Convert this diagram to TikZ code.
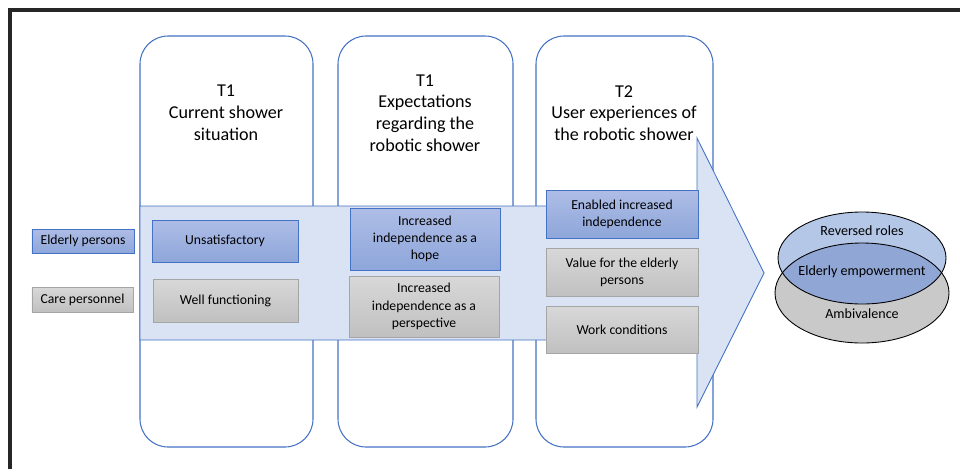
\documentclass[tikz,border=0pt]{standalone}
\usepackage{fontspec}
\setmainfont{Carlito}
\usetikzlibrary{shapes.geometric}

\definecolor{phaseline}{HTML}{4472C4}
\definecolor{arrowfill}{HTML}{DAE3F3}
\definecolor{bluetop}{HTML}{AEBDE6}
\definecolor{bluebot}{HTML}{8EA6DA}
\definecolor{greytop}{HTML}{D8D8D8}
\definecolor{greybot}{HTML}{C0C0C0}
\definecolor{greyline}{HTML}{A5A5A5}
\definecolor{rolefill}{HTML}{B4C7E7}
\definecolor{ambfill}{HTML}{C9C9C9}
\definecolor{overlapfill}{HTML}{90A6D5}

\tikzset{
    phase/.style={draw=phaseline, line width=0.6pt, rounded corners=5.6mm, minimum height=82.2mm},
    title/.style={align=center, font=\fontsize{10.3}{12.4}\selectfont},
    elderly/.style={draw=phaseline, top color=bluetop, bottom color=bluebot, align=center,
        font=\fontsize{7.8}{9.8}\selectfont, inner sep=1pt},
    care/.style={draw=greyline, top color=greytop, bottom color=greybot, align=center,
        font=\fontsize{7.8}{9.8}\selectfont, inner sep=1pt},
    venn/.style={font=\fontsize{8}{9.6}\selectfont}
}

\begin{document}
\begin{tikzpicture}[x=0.2mm, y=0.2mm]
            \useasboundingbox (0, 0) rectangle (960, 469);
            \draw[line width=0.8mm, black!85] (10, 0) -- (10, 459) -- (960, 459);

            % the three phases
            \node[phase, minimum width=34.6mm] at (226.5, 227.5) (c1) {};
            \node[phase, minimum width=35mm] at (425.5, 227.5) (c2) {};
            \node[phase, minimum width=35.4mm] at (624.5, 227.5) (c3) {};

            \node[title] at (226, 356) (t1) {T1\\Current shower\\situation};
            \node[title] at (425, 356) (t1e) {T1\\Expectations\\regarding the\\robotic shower};
            \node[title] at (624, 356) (t2) {T2\\User experiences of\\the robotic shower};

            % big arrow
            \draw[draw=phaseline, fill=arrowfill, line width=0.5pt]
                (140, 263) -- (697, 263) -- (697, 331) -- (764, 196)
                -- (697, 62) -- (697, 129) -- (140, 129) -- cycle;

            % legend
            \node[elderly, minimum width=20.4mm, minimum height=4.8mm] at (83, 228) (ep) {Elderly persons};
            \node[care, minimum width=20.2mm, minimum height=5mm] at (82.5, 169.5) (cp) {Care personnel};

            \node[elderly, minimum width=29.2mm, minimum height=8.4mm] at (225, 228) (unsat) {Unsatisfactory};
            \node[care, minimum width=29mm, minimum height=8.6mm] at (225.5, 168.5) (well) {Well functioning};

            \node[elderly, minimum width=30mm, minimum height=12.4mm] at (425, 230) (hope) {Increased\\independence as a\\hope};
            \node[care, minimum width=30mm, minimum height=12.2mm] at (424, 162.5) (persp) {Increased\\independence as a\\perspective};

            \node[elderly, minimum width=30.4mm, minimum height=9.6mm] at (622, 255) (enab) {Enabled increased\\independence};
            \node[care, minimum width=30.4mm, minimum height=9.6mm] at (622, 197) (value) {Value for the elderly\\persons};
            \node[care, minimum width=30.4mm, minimum height=9.4mm] at (622, 139.5) (work) {Work conditions};

            % outcome
            \node[ellipse, fill=ambfill, minimum width=34.8mm, minimum height=20mm] at (862, 176) (amb) {};
            \node[ellipse, fill=rolefill, minimum width=33.6mm, minimum height=18.4mm] at (862, 211) (rev) {};
            \begin{scope}
                \clip (862, 176) ellipse (87 and 50);
                \fill[overlapfill] (862, 211) ellipse (84 and 46);
            \end{scope}
            \draw[line width=0.5pt] (862, 176) ellipse (87 and 50);
            \draw[line width=0.5pt] (862, 211) ellipse (84 and 46);

            \node[venn] at (862, 238) (roles) {Reversed roles};
            \node[venn] at (862, 197) (emp) {Elderly empowerment};
            \node[venn] at (862, 155) (ambi) {Ambivalence};
        \end{tikzpicture}
\end{document}
